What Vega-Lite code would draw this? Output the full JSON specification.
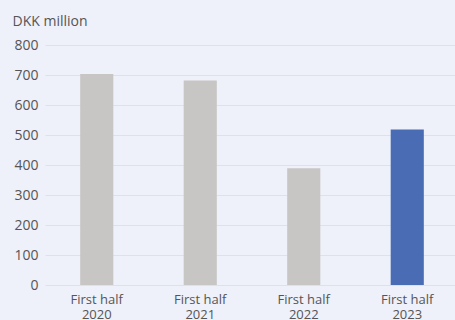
{
  "$schema": "https://vega.github.io/schema/vega-lite/v6.json",
  "width": 414,
  "height": 240,
  "autosize": "none",
  "padding": {"left": 45, "top": 45, "right": 0, "bottom": 35},
  "background": "#eef0fa",
  "config": {
    "view": {"stroke": null},
    "font": "Open Sans"
  },
  "data": {
    "values": [
      {"period": "First half 2020", "value": 703},
      {"period": "First half 2021", "value": 682},
      {"period": "First half 2022", "value": 389},
      {"period": "First half 2023", "value": 518}
    ]
  },
  "mark": {"type": "bar"},
  "encoding": {
    "x": {
      "field": "period",
      "type": "nominal",
      "sort": null,
      "scale": {"paddingInner": 0.68, "paddingOuter": 0.34},
      "axis": {
        "title": null,
        "labelAngle": 0,
        "labelExpr": "[slice(datum.label,0,10), slice(datum.label,11)]",
        "labelFontSize": 13,
        "labelColor": "#555555",
        "labelLineHeight": 15,
        "labelPadding": 8,
        "ticks": false,
        "domain": false,
        "grid": false
      }
    },
    "y": {
      "field": "value",
      "type": "quantitative",
      "scale": {"domain": [0, 800]},
      "axis": {
        "title": "DKK million",
        "titleAngle": 0,
        "titleAlign": "left",
        "titleBaseline": "alphabetic",
        "titleX": -33,
        "titleY": -20,
        "titleFontSize": 14,
        "titleFontWeight": "normal",
        "titleColor": "#555555",
        "values": [0, 100, 200, 300, 400, 500, 600, 700, 800],
        "labelFontSize": 14,
        "labelColor": "#555555",
        "labelPadding": 7,
        "ticks": false,
        "domain": false,
        "gridColor": "#dfe1ea",
        "gridWidth": 1
      }
    },
    "color": {
      "condition": {"test": "datum.period === 'First half 2023'", "value": "#4a6cb4"},
      "value": "#c8c6c4"
    }
  }
}
